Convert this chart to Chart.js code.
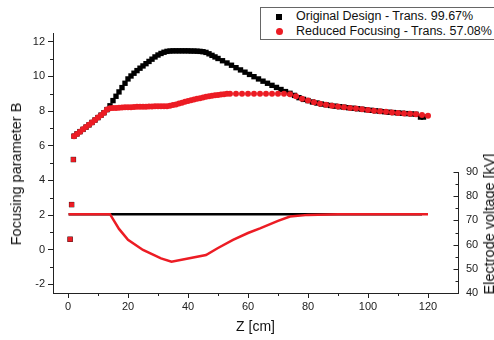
<!DOCTYPE html>
<html>
<head>
<meta charset="utf-8">
<script src="https://cdn.jsdelivr.net/npm/chart.js@4"></script>
<style>
  body { margin: 0; background: #fff; }
  #wrap { position: relative; width: 494px; height: 340px; overflow: hidden; font-family: "Liberation Sans", Arial, sans-serif; }
  #legend { position: absolute; left: 260px; top: 7px; width: 250px; height: 31px; border: 1px solid #666; background: #fff; font-size: 12.5px; color: #111; }
  #legend .row { position: absolute; left: 0; height: 15px; line-height: 15px; white-space: nowrap; }
  #legend .mk { position: absolute; left: 15px; }
  #legend .tx { position: absolute; left: 35px; }
  .vtitle { position: absolute; transform: translate(-50%, -50%) rotate(-90deg); white-space: nowrap; font-size: 14.5px; color: #111; }
</style>
</head>
<body>
<div id="wrap">
  <canvas id="chart"></canvas>
  <div id="legend">
    <div class="row" style="top:1px"><span class="mk" style="top:4.5px;width:6px;height:6px;background:#000"></span><span class="tx">Original Design - Trans. 99.67%</span></div>
    <div class="row" style="top:16px"><span class="mk" style="top:4px;width:7px;height:7px;border-radius:50%;background:#ec1c24"></span><span class="tx">Reduced Focusing - Trans. 57.08%</span></div>
  </div>
  <div class="vtitle" style="left:16px; top:174px">Focusing parameter B</div>
  <div class="vtitle" style="left:489px; top:224px">Electrode voltage [kV]</div>
</div>
<script>
// focusing parameter B
const zOrig = [0.7, 1.2, 1.8,
  2, 3, 4, 5, 6, 7, 8, 9, 10, 11, 12, 13, 14, 15, 16, 17, 18, 19, 20, 21, 22, 23, 24, 25, 26, 27, 28, 29, 30,
  31, 32, 33, 34, 35, 36, 37, 38, 39, 40, 41, 42, 43, 44, 45, 46, 47, 48, 49, 50,
  51.5, 53, 54.5, 56, 57.5, 59, 60.5, 62, 63.5, 65, 66.5, 68, 69.5, 71, 72.5, 74, 75.5, 77, 78.5, 80,
  81.5, 83, 84.5, 86, 87.5, 89, 90.5, 92, 93.5, 95, 96.5, 98, 99.5, 101, 102.5, 104, 105.5, 107, 108.5, 110,
  111.5, 113, 114.5, 116, 117.5, 118.5];
const bOrig = [0.6, 2.6, 5.2,
  6.55, 6.68, 6.81, 6.94, 7.07, 7.2, 7.34, 7.48, 7.62, 7.76, 7.9, 8.08, 8.3, 8.6, 8.85, 9.1, 9.35, 9.6, 9.85, 10.02, 10.18, 10.33, 10.47, 10.6, 10.73, 10.86, 10.99, 11.12, 11.23,
  11.32, 11.39, 11.44, 11.46, 11.47, 11.47, 11.47, 11.47, 11.47, 11.47, 11.46, 11.46, 11.45, 11.44, 11.42, 11.38, 11.3, 11.21, 11.12, 11.03,
  10.9, 10.77, 10.64, 10.5, 10.37, 10.24, 10.11, 9.98, 9.85, 9.72, 9.6, 9.48, 9.36, 9.24, 9.12, 9.02, 8.9, 8.77, 8.67, 8.6,
  8.52, 8.46, 8.4, 8.36, 8.32, 8.28, 8.25, 8.22, 8.19, 8.16, 8.13, 8.1, 8.07, 8.04, 8.01, 7.98, 7.96, 7.93, 7.91, 7.89,
  7.87, 7.85, 7.83, 7.81, 7.65, 7.65];

const zRed = [0.7, 1.2, 1.8,
  2, 3, 4, 5, 6, 7, 8, 9, 10, 11, 12, 13, 14, 15, 16, 17, 18, 19, 20, 21, 22, 23, 24, 25, 26, 27, 28, 29, 30,
  31, 32, 33, 34, 35, 36, 37, 38, 39, 40, 41, 42, 43, 44, 45, 46, 47, 48, 49, 50, 51, 52, 53, 54,
  56, 58, 60, 62, 64, 66, 68, 70, 72, 74, 76, 78, 80, 82, 84, 86, 88, 90, 92, 94, 96, 98, 100,
  102, 104, 106, 108, 110, 112, 114, 116, 118, 120];
const bRed = [0.6, 2.6, 5.2,
  6.55, 6.68, 6.81, 6.94, 7.07, 7.2, 7.34, 7.48, 7.62, 7.76, 7.9, 8.08, 8.16, 8.17, 8.18, 8.19, 8.2, 8.21, 8.22, 8.22, 8.23, 8.24, 8.24, 8.25, 8.25, 8.26, 8.26, 8.27, 8.27,
  8.27, 8.28, 8.28, 8.3, 8.34, 8.38, 8.43, 8.48, 8.53, 8.58, 8.62, 8.66, 8.7, 8.74, 8.78, 8.82, 8.85, 8.88, 8.91, 8.93, 8.95, 8.97, 8.99, 9.0,
  9.0, 9.0, 9.0, 9.0, 9.0, 9.0, 9.0, 9.0, 8.99, 8.97, 8.85, 8.7, 8.6, 8.5, 8.42, 8.36, 8.3, 8.26, 8.22, 8.18, 8.14, 8.1, 8.06,
  8.02, 7.98, 7.95, 7.92, 7.89, 7.86, 7.84, 7.81, 7.77, 7.72];

// electrode voltage [kV]
const zVOrig = [0.2, 118];
const vOrig = [72.6, 72.6];
const zVRed = [0.2, 14, 17, 20, 25, 31, 34.5, 46, 50, 55, 60, 64, 70, 74, 80, 90, 120];
const vRed = [72.6, 72.6, 66.5, 62, 57.8, 54.3, 52.9, 55.7, 58.6, 62.0, 64.8, 66.7, 69.8, 71.6, 72.3, 72.6, 72.6];

// axis ticks
const xTicks = [0, 20, 40, 60, 80, 100, 120];
const xMinor = [10, 30, 50, 70, 90, 110];
const yTicks = [-2, 0, 2, 4, 6, 8, 10, 12];
const yMinor = [-1, 1, 3, 5, 7, 9, 11];
const vTicks = [40, 50, 60, 70, 80, 90];
const vMinor = [45, 55, 65, 75, 85];

const RED = '#ec1c24';
const pts = (xs, ys) => xs.map((x, i) => ({ x: x, y: ys[i] }));

const axisTicks = {
  id: 'axisTicks',
  afterDraw(chart) {
    const { ctx } = chart;
    const { x, y, y2 } = chart.scales;
    ctx.save();
    ctx.strokeStyle = '#222';
    ctx.lineWidth = 1;
    ctx.beginPath();
    xMinor.forEach(v => {
      const px = Math.round(x.getPixelForValue(v)) + 0.5;
      ctx.moveTo(px, x.top); ctx.lineTo(px, x.top + 3);
    });
    yMinor.forEach(v => {
      const py = Math.round(y.getPixelForValue(v)) + 0.5;
      ctx.moveTo(y.right, py); ctx.lineTo(y.right - 3, py);
    });
    // right axis only spans 40..90 kV
    const xr = Math.round(y2.left) + 0.5;
    ctx.moveTo(xr, y2.getPixelForValue(40)); ctx.lineTo(xr, y2.getPixelForValue(90));
    vTicks.forEach(v => {
      const py = Math.round(y2.getPixelForValue(v)) + 0.5;
      ctx.moveTo(xr, py); ctx.lineTo(xr - 5, py);
    });
    vMinor.forEach(v => {
      const py = Math.round(y2.getPixelForValue(v)) + 0.5;
      ctx.moveTo(xr, py); ctx.lineTo(xr - 3, py);
    });
    ctx.stroke();
    ctx.restore();
  }
};

const tickFont = { family: '"Liberation Sans", Arial, sans-serif', size: 11 };
const titleFont = { family: '"Liberation Sans", Arial, sans-serif', size: 14 };

new Chart(document.getElementById('chart'), {
  type: 'scatter',
  data: {
    datasets: [
      { label: 'Reduced Focusing - Trans. 57.08%', data: pts(zRed, bRed), yAxisID: 'y', order: 0,
        pointStyle: c => c.dataIndex < 3 ? 'rect' : 'circle',
        pointRadius: c => c.dataIndex < 3 ? 3.4 : 3,
        backgroundColor: RED, borderWidth: 0, showLine: false },
      { label: 'Original Design - Trans. 99.67%', data: pts(zOrig, bOrig), yAxisID: 'y', order: 1,
        pointStyle: 'rect', pointRadius: 3.8, backgroundColor: '#000', borderWidth: 0, showLine: false },
      { label: 'V reduced', data: pts(zVRed, vRed), yAxisID: 'y2', order: 2,
        showLine: true, borderColor: RED, borderWidth: 2.5, pointRadius: 0 },
      { label: 'V original', data: pts(zVOrig, vOrig), yAxisID: 'y2', order: 3,
        showLine: true, borderColor: '#000', borderWidth: 2.5, pointRadius: 0 }
    ]
  },
  options: {
    responsive: true,
    maintainAspectRatio: false,
    animation: false,
    layout: { padding: { top: 33, left: 0, right: 0, bottom: 0 } },
    plugins: { legend: { display: false }, tooltip: { enabled: false } },
    scales: {
      x: {
        type: 'linear', min: -5, max: 130,
        afterBuildTicks: s => { s.ticks = xTicks.map(v => ({ value: v })); },
        afterFit: s => { s.height = 47; },
        grid: { drawOnChartArea: false, tickLength: 5, color: '#222' },
        border: { color: '#222', width: 1 },
        ticks: { font: tickFont, color: '#222', padding: 2, maxRotation: 0 },
        title: { display: true, text: 'Z [cm]', font: titleFont, color: '#111' }
      },
      y: {
        type: 'linear', position: 'left', min: -2.5, max: 12.5,
        afterBuildTicks: s => { s.ticks = yTicks.map(v => ({ value: v })); },
        afterFit: s => { s.width = 53; },
        grid: { drawOnChartArea: false, tickLength: 5, color: '#222' },
        border: { color: '#222', width: 1 },
        ticks: { font: tickFont, color: '#222', padding: 3 }
      },
      y2: {
        type: 'linear', position: 'right', min: 40, max: 147.5,
        afterBuildTicks: s => { s.ticks = vTicks.map(v => ({ value: v })); },
        afterFit: s => { s.width = 36; },
        grid: { display: false, drawOnChartArea: false, drawTicks: false },
        border: { display: false },
        ticks: { font: tickFont, color: '#222', padding: 8 }
      }
    }
  },
  plugins: [axisTicks]
});
</script>
</body>
</html>
